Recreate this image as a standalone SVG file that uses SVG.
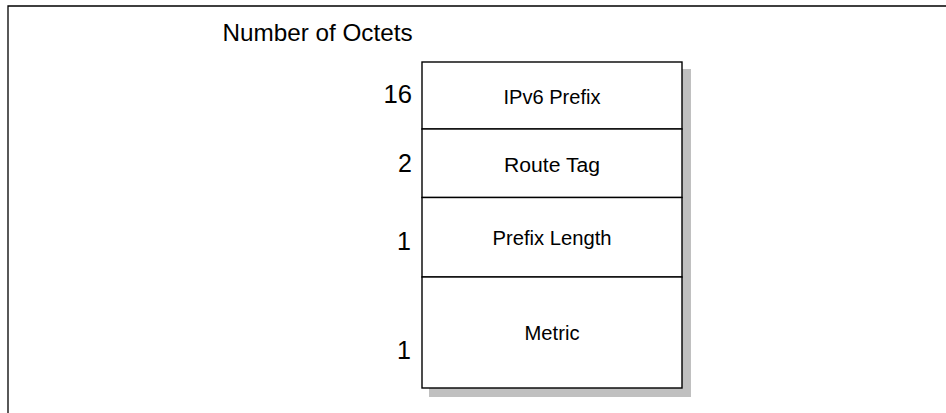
<svg xmlns="http://www.w3.org/2000/svg" width="946" height="413" viewBox="0 0 946 413">
  <style>
    .lbl { font-family: "Liberation Sans", Arial, sans-serif; font-size: 20px; fill: #000; text-anchor: middle; }
    .num { font-family: "Liberation Sans", Arial, sans-serif; font-size: 25px; fill: #000; text-anchor: end; }
    .title { font-family: "Liberation Sans", Arial, sans-serif; font-size: 24px; fill: #000; }
    .cell { fill: #fff; stroke: #000; stroke-width: 1.4; }
    .shadow { fill: #c0c0c0; }
  </style>
  <rect width="946" height="413" fill="#fff"/>
  <g id="frame">
    <path d="M8 413 V6 H946" fill="none" stroke="#000" stroke-width="1.3"/>
  </g>
  <text class="title" x="222.5" y="41" textLength="190" lengthAdjust="spacingAndGlyphs">Number of Octets</text>
  <g id="shadow">
    <rect class="shadow" x="429" y="69" width="262" height="328"/>
  </g>
  <g id="ipv6-prefix">
    <rect class="cell" x="422" y="62" width="260" height="67"/>
    <text class="lbl" x="552" y="103.5" textLength="97" lengthAdjust="spacingAndGlyphs">IPv6 Prefix</text>
    <text class="num" x="412" y="103" textLength="28.5" lengthAdjust="spacingAndGlyphs">16</text>
  </g>
  <g id="route-tag">
    <rect class="cell" x="422" y="129" width="260" height="68.5"/>
    <text class="lbl" x="552" y="171.5" textLength="96" lengthAdjust="spacingAndGlyphs">Route Tag</text>
    <text class="num" x="412" y="171.5">2</text>
  </g>
  <g id="prefix-length">
    <rect class="cell" x="422" y="197.5" width="260" height="79.5"/>
    <text class="lbl" x="552" y="245" textLength="119" lengthAdjust="spacingAndGlyphs">Prefix Length</text>
    <text class="num" x="411" y="250">1</text>
  </g>
  <g id="metric">
    <rect class="cell" x="422" y="277" width="260" height="111"/>
    <text class="lbl" x="552" y="340" textLength="55" lengthAdjust="spacingAndGlyphs">Metric</text>
    <text class="num" x="411" y="358.5">1</text>
  </g>
  <g id="connectors"></g>
</svg>
